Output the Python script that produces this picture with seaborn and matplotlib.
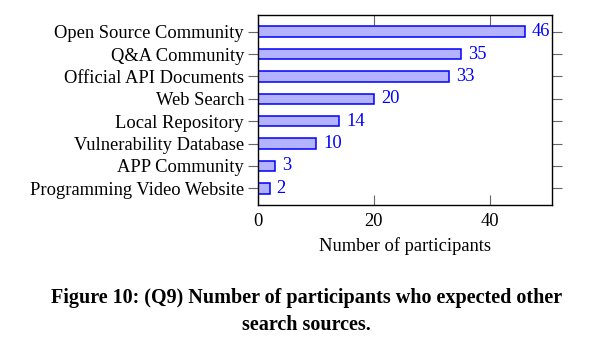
import matplotlib
matplotlib.use("Agg")
import matplotlib.pyplot as plt
import seaborn as sns

# chart data
sources = ["Open Source Community", "Q&A Community", "Official API Documents",
           "Web Search", "Local Repository", "Vulnerability Database",
           "APP Community", "Programming Video Website"]
participants = [46, 35, 33, 20, 14, 10, 3, 2]
x_ticks = [0, 20, 40]

sns.set_style("white")
plt.rcParams['font.family'] = ['Liberation Serif', 'DejaVu Serif']
plt.rcParams['text.color'] = 'black'
plt.rcParams['axes.labelcolor'] = 'black'
plt.rcParams['xtick.labelcolor'] = 'black'
plt.rcParams['ytick.labelcolor'] = 'black'

fig = plt.figure(figsize=(6.04, 3.6), dpi=100)
ax = fig.add_axes([0.427, 0.431, 0.487, 0.527])

sns.barplot(x=participants, y=sources, orient='h', ax=ax, width=0.47,
            color='#b3b3ff', edgecolor='#0000ff', linewidth=1.1, saturation=1)

# value labels to the right of each bar
ax.bar_label(ax.containers[0], padding=5, color='#0000ff', fontsize=13.3)

ax.set_xlim(0, 50.7)
ax.set_ylim(len(sources) - 1 + 0.74, -0.74)
ax.set_xticks(x_ticks)
ax.set_xlabel('Number of participants', fontsize=13.3, labelpad=5)
ax.set_ylabel('')

for s in ax.spines.values():
    s.set_visible(True)
    s.set_color('black')
    s.set_linewidth(1.0)

ax.tick_params(axis='x', direction='in', top=True, bottom=True, length=7,
               width=0.8, color='0.4', labelsize=13.3, pad=6)
ax.tick_params(axis='y', direction='out', left=True, right=True, length=7,
               width=0.8, color='0.4', labelsize=13.3, pad=3)

# figure caption
fig.text(0.507, 0.135, 'Figure 10: (Q9) Number of participants who expected other\nsearch sources.',
         ha='center', va='center', fontsize=14.5, fontweight='bold', linespacing=1.45)

fig.savefig('out.png', dpi=100)
